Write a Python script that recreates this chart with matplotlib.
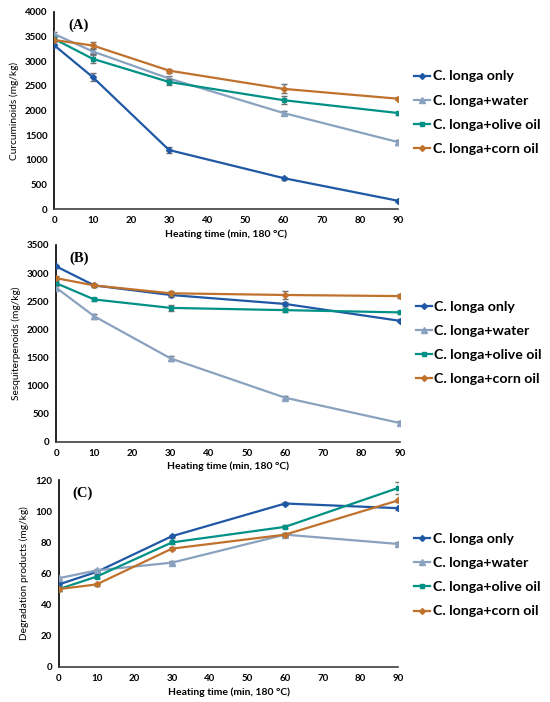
import matplotlib.pyplot as plt
from matplotlib.lines import Line2D
import numpy as np

# heating times (min)
times = [0, 10, 30, 60, 90]
series_names = ['C. longa only', 'C. longa+water', 'C. longa+olive oil', 'C. longa+corn oil']

# (A) curcuminoids, mg/kg
curc_only = [3320, 2680, 1200, 630, 170]
curc_water = [3550, 3200, 2650, 1950, 1360]
curc_olive = [3450, 3050, 2580, 2210, 1950]
curc_corn = [3430, 3320, 2810, 2440, 2240]
curc_err_only = [30, 80, 60, 30, 20]
curc_err_water = [40, 70, 50, 40, 50]
curc_err_olive = [40, 90, 60, 80, 30]
curc_err_corn = [30, 70, 40, 90, 30]

# (B) sesquiterpenoids, mg/kg
sesq_only = [3120, 2780, 2610, 2450, 2150]
sesq_water = [2740, 2230, 1480, 780, 330]
sesq_olive = [2820, 2530, 2380, 2340, 2300]
sesq_corn = [2910, 2780, 2640, 2610, 2590]
sesq_err_only = [30, 30, 30, 40, 30]
sesq_err_water = [30, 40, 50, 30, 30]
sesq_err_olive = [30, 30, 50, 30, 20]
sesq_err_corn = [30, 30, 40, 70, 40]

# (C) degradation products, mg/kg
degr_only = [53, 61, 84, 105, 102]
degr_water = [57, 62, 67, 85, 79]
degr_olive = [50, 58, 80, 90, 115]
degr_corn = [50, 53, 76, 85, 107]
degr_err_only = [1, 1, 1, 1, 1]
degr_err_water = [1, 1, 1, 1, 1]
degr_err_olive = [1, 1, 1, 1, 4]
degr_err_corn = [1, 1, 1, 1, 1]

colors = ['#1f58a5', '#8aa2bf', '#009186', '#c0722d']
markers = ['D', '^', 's', 'D']
msizes = [3, 4.5, 3.5, 3]

plt.rcParams['font.family'] = ['Lato', 'DejaVu Sans']

fig = plt.figure(figsize=(5.5, 7.02), dpi=100)

panels = [
    {'rect': [0.099, 0.702, 0.625, 0.281], 'label': '(A)', 'ylabel': 'Curcuminoids (mg/kg)',
     'data': [curc_only, curc_water, curc_olive, curc_corn],
     'err': [curc_err_only, curc_err_water, curc_err_olive, curc_err_corn],
     'ylim': (0, 4000), 'ystep': 500, 'legend_y': 0.49},
    {'rect': [0.102, 0.371, 0.625, 0.280], 'label': '(B)', 'ylabel': 'Sesquiterpenoids (mg/kg)',
     'data': [sesq_only, sesq_water, sesq_olive, sesq_corn],
     'err': [sesq_err_only, sesq_err_water, sesq_err_olive, sesq_err_corn],
     'ylim': (0, 3500), 'ystep': 500, 'legend_y': 0.5},
    {'rect': [0.107, 0.050, 0.617, 0.266], 'label': '(C)', 'ylabel': 'Degradation products (mg/kg)',
     'data': [degr_only, degr_water, degr_olive, degr_corn],
     'err': [degr_err_only, degr_err_water, degr_err_olive, degr_err_corn],
     'ylim': (0, 120), 'ystep': 20, 'legend_y': 0.49},
]

handles = [Line2D([], [], color=colors[i], marker=markers[i], markersize=msizes[i],
                  linewidth=1.6) for i in range(4)]

for p in panels:
    ax = fig.add_axes(p['rect'])
    for i in range(4):
        ax.errorbar(times, p['data'][i], yerr=p['err'][i], color=colors[i], marker=markers[i],
                    markersize=msizes[i], linewidth=1.6, ecolor='#707070', elinewidth=1,
                    capsize=2, zorder=3 + i)
    ax.set_xlim(0, 90)
    ax.set_ylim(*p['ylim'])
    ax.set_xticks(np.arange(0, 91, 10))
    ax.set_yticks(np.arange(p['ylim'][0], p['ylim'][1] + 1, p['ystep']))
    for s in ['top', 'right']:
        ax.spines[s].set_visible(False)
    ax.spines['left'].set_linewidth(1.2)
    ax.spines['bottom'].set_linewidth(1.2)
    ax.spines['bottom'].set_color('#404040')
    ax.tick_params(axis='both', length=0, labelsize=7, pad=5)
    for t in ax.get_xticklabels() + ax.get_yticklabels():
        t.set_fontweight('bold')
    ax.set_ylabel(p['ylabel'], fontsize=7.3, labelpad=4)
    ax.set_xlabel('Heating time (min, 180 \u00b0C)', fontsize=7.5, fontweight='bold', labelpad=3)
    ax.text(0.04, 0.93, p['label'], transform=ax.transAxes, fontsize=10.5, fontweight='bold',
            family='Liberation Serif', va='center')
    leg = ax.legend(handles, series_names, loc='center left', bbox_to_anchor=(1.01, p['legend_y']),
                    frameon=False, fontsize=10.2, handlelength=1.1, labelspacing=0.85,
                    handletextpad=0.2)
    for t in leg.get_texts():
        t.set_fontweight('bold')

plt.savefig('out.png', dpi=100)
